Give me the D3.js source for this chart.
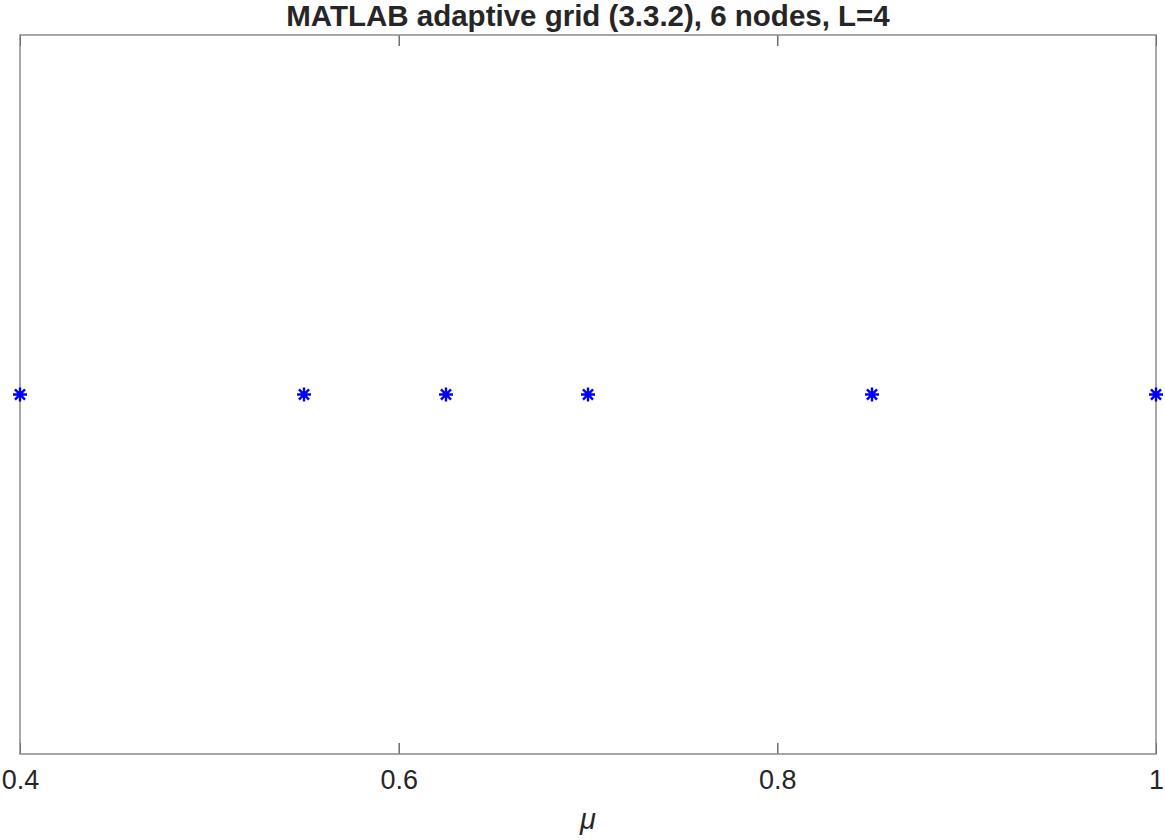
<!DOCTYPE html>
<html>
<head>
<meta charset="utf-8">
<script src="https://cdn.jsdelivr.net/npm/d3@7"></script>
<style>
  body { margin: 0; background: #fff; }
  text { font-family: "Liberation Sans", Arial, sans-serif; }
</style>
</head>
<body>
<script>
// grid nodes along mu
var nodes = [0.4, 0.55, 0.625, 0.7, 0.85, 1.0];
var xTicks = [0.4, 0.6, 0.8, 1];
var xTickLabels = ["0.4", "0.6", "0.8", "1"];

var width = 1165, height = 840;
var margin = {top: 35, right: 9, bottom: 86, left: 20};
var w = width - margin.left - margin.right,
    h = height - margin.top - margin.bottom;

var svg = d3.select("body").append("svg")
    .attr("width", width)
    .attr("height", height);

var x = d3.scaleLinear().domain([0.4, 1]).range([0, w]);
var y = d3.scaleLinear().domain([0, 1]).range([h, 0]);

var g = svg.append("g")
    .attr("transform", "translate(" + margin.left + "," + margin.top + ")");

// bottom axis
var xAxis = g.append("g")
    .attr("transform", "translate(0," + h + ")")
    .call(d3.axisBottom(x).tickValues(xTicks)
        .tickFormat(function(d, i) { return xTickLabels[i]; })
        .tickSizeInner(-11).tickSizeOuter(0).tickPadding(16));
xAxis.select(".domain").remove();
xAxis.selectAll("line").attr("stroke", "#262626");
xAxis.selectAll("text")
    .attr("fill", "#262626")
    .attr("font-size", 27)
    .attr("font-family", "Liberation Sans, Arial, sans-serif");

// top ticks
var topAxis = g.append("g")
    .call(d3.axisTop(x).tickValues(xTicks).tickFormat("")
        .tickSizeInner(-11).tickSizeOuter(0));
topAxis.select(".domain").remove();
topAxis.selectAll("line").attr("stroke", "#262626");

// box
g.append("rect")
    .attr("x", 0).attr("y", 0)
    .attr("width", w).attr("height", h)
    .attr("fill", "none")
    .attr("stroke", "#8a8a8a")
    .attr("stroke-width", 1.5);

// asterisk markers
var s = 7;
var marks = g.selectAll(".node")
    .data(nodes)
    .enter().append("g")
    .attr("class", "node")
    .attr("transform", function(d) { return "translate(" + x(d) + "," + y(0.5) + ")"; });
marks.append("path")
    .attr("d", "M" + (-s) + ",0L" + s + ",0M0," + (-s) + "L0," + s +
               "M" + (-s * 0.72) + "," + (-s * 0.72) + "L" + (s * 0.72) + "," + (s * 0.72) +
               "M" + (-s * 0.72) + "," + (s * 0.72) + "L" + (s * 0.72) + "," + (-s * 0.72))
    .attr("stroke", "#0000ff")
    .attr("stroke-width", 2.4)
    .attr("fill", "none");

// title
svg.append("text")
    .attr("x", margin.left + w / 2)
    .attr("y", 26)
    .attr("text-anchor", "middle")
    .attr("font-size", 29.5)
    .attr("font-weight", "bold")
    .attr("fill", "#262626")
    .text("MATLAB adaptive grid (3.3.2), 6 nodes, L=4");

// x label
svg.append("text")
    .attr("x", margin.left + w / 2)
    .attr("y", 829)
    .attr("text-anchor", "middle")
    .attr("font-size", 29)
    .attr("font-style", "italic")
    .attr("fill", "#262626")
    .text("μ");
</script>
</body>
</html>
